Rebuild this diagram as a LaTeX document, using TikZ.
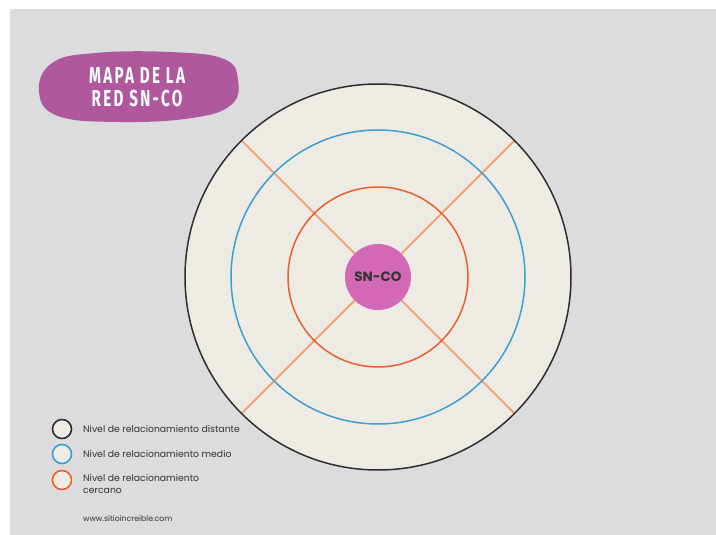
\documentclass[tikz,border=0pt]{standalone}
\usepackage{fontspec}
\usetikzlibrary{calc}
\setmainfont{Poppins}
\newfontfamily\titlefont[FakeStretch=0.66,LetterSpace=10]{Fira Sans}
\definecolor{bggray}{HTML}{DCDCDC}
\definecolor{ringfill}{HTML}{EEEBE4}
\definecolor{ringdark}{HTML}{2E2E2E}
\definecolor{ringblue}{HTML}{3A9FD2}
\definecolor{ringred}{HTML}{E8602C}
\definecolor{spoke}{HTML}{F0A278}
\definecolor{hub}{HTML}{D268B6}
\definecolor{blob}{HTML}{B0589E}
\definecolor{txt}{HTML}{333333}
\begin{document}
\begin{tikzpicture}[x=1pt,y=-1pt,
  ring/.style={line width=1.5pt},
  legdot/.style={circle,minimum size=19pt,inner sep=0pt,fill=ringfill,line width=1.6pt},
  legtxt/.style={anchor=west,font=\fontsize{9.3}{12}\selectfont,text=txt,align=left,inner sep=0pt}]
\useasboundingbox (0,0) rectangle (716,535);
\fill[white] (0,0) rectangle (716,535);
\fill[bggray] (10,9) rectangle (716,535);
% title blob
\fill[blob] plot[smooth cycle,tension=0.7] coordinates {(39,92) (52,63) (95,53) (170,52) (224,59) (238,80) (231,105) (192,118) (120,122) (58,116)};
\node[font=\titlefont\bfseries\fontsize{23}{23.5}\selectfont,text=white,align=center,inner sep=0pt] (title) at (137,87) {MAPA DE LA\\RED SN-CO};
% rings
\coordinate (c) at (378,277);
\fill[ringfill] (c) circle[radius=193];
\foreach \a in {45,135,225,315}{
  \draw[spoke,line width=1.8pt] ($(c)+(\a:33)$) -- ($(c)+(\a:193)$);
}
\draw[ring,ringdark] (c) circle[radius=193];
\draw[ring,ringblue] (c) circle[radius=147];
\draw[ring,ringred] (c) circle[radius=90];
\node[circle,fill=hub,minimum size=66pt,inner sep=0pt,font=\bfseries\fontsize{13.5}{15}\selectfont,text=txt] (hub) at (c) {SN-CO};
% legend
\node[legdot,draw=ringdark] (l1) at (62,429) {};
\node[legdot,draw=ringblue] (l2) at (62,454) {};
\node[legdot,draw=ringred] (l3) at (62,480) {};
\node[legtxt] (t1) at (83,429) {Nivel de relacionamiento distante};
\node[legtxt] (t2) at (83,454) {Nivel de relacionamiento medio};
\node[legtxt,anchor=north west] (t3) at (83,474) {Nivel de relacionamiento\\cercano};
\node[legtxt,font=\fontsize{7.8}{9}\selectfont] (url) at (83,519) {www.sitioincreible.com};
\end{tikzpicture}
\end{document}
